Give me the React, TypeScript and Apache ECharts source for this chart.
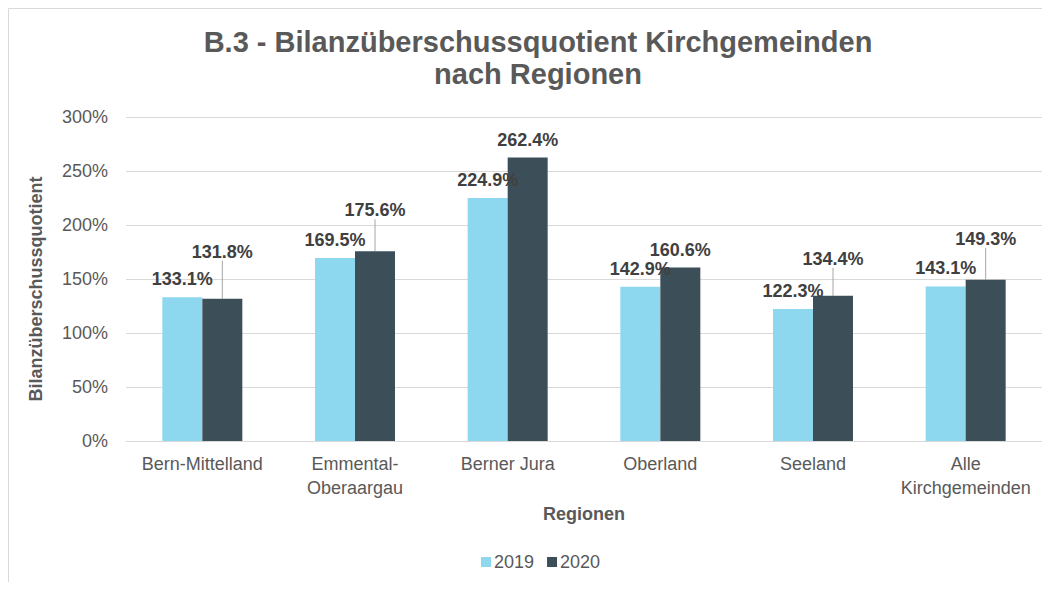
import React, { useEffect, useRef } from "react";
import * as echarts from "echarts";

const categories = [
  "Bern-Mittelland",
  "Emmental-\nOberaargau",
  "Berner Jura",
  "Oberland",
  "Seeland",
  "Alle\nKirchgemeinden",
];
const seriesNames = ["2019", "2020"];
const values2019 = [133.1, 169.5, 224.9, 142.9, 122.3, 143.1];
const values2020 = [131.8, 175.6, 262.4, 160.6, 134.4, 149.3];
const yMin = 0;
const yMax = 300;
const yInterval = 50;

const titleLines = ["B.3 - Bilanzüberschussquotient Kirchgemeinden", "nach Regionen"];
const yAxisName = "Bilanzüberschussquotient";
const xAxisName = "Regionen";

// label placement (layout only): how far the 2020 labels were lifted
const lift2020 = [29, 23, 0, 0, 19, 23];

const FONT = "'Liberation Sans', Arial, sans-serif";

export default function App() {
  const ref = useRef<HTMLDivElement>(null);
  useEffect(() => {
    if (!ref.current) return;
    const chart = echarts.init(ref.current, null, { renderer: "svg" });
    const fmt = (p: any) => Number(p.value).toFixed(1) + "%";
    chart.setOption({
      animation: false,
      textStyle: { fontFamily: FONT },
      graphic: [
        {
          type: "rect",
          silent: true,
          shape: { x: 0.5, y: 0.5, width: 1100, height: 700 },
          style: { fill: "none", stroke: "#d9d9d9", lineWidth: 1 },
        },
        {
          type: "text",
          x: 530,
          y: 34,
          style: {
            text: titleLines[0],
            fontFamily: FONT,
            fontSize: 29,
            fontWeight: "bold",
            fill: "#595959",
            align: "center",
            verticalAlign: "middle",
          },
        },
        {
          type: "text",
          x: 530,
          y: 66,
          style: {
            text: titleLines[1],
            fontFamily: FONT,
            fontSize: 29,
            fontWeight: "bold",
            fill: "#595959",
            align: "center",
            verticalAlign: "middle",
          },
        },
        {
          type: "text",
          x: 28,
          y: 281,
          rotation: Math.PI / 2,
          style: {
            text: yAxisName,
            fontFamily: FONT,
            fontSize: 18,
            fontWeight: "bold",
            fill: "#595959",
            align: "center",
            verticalAlign: "middle",
          },
        },
      ],
      legend: {
        data: seriesNames,
        left: 473,
        top: 545,
        padding: 0,
        itemWidth: 10,
        itemHeight: 10,
        itemGap: 13,
        icon: "rect",
        textStyle: { fontFamily: FONT, fontSize: 18, color: "#595959", padding: [0, 0, 0, -2] },
      },
      grid: { left: 118, right: 0, top: 109, height: 324 },
      xAxis: {
        type: "category",
        data: categories,
        name: xAxisName,
        nameLocation: "middle",
        nameGap: 63,
        nameTextStyle: { fontFamily: FONT, fontSize: 18, fontWeight: "bold", color: "#595959" },
        axisLine: { lineStyle: { color: "#d9d9d9", width: 1 } },
        axisTick: { show: false },
        axisLabel: {
          fontFamily: FONT,
          fontSize: 18,
          color: "#595959",
          lineHeight: 24,
          margin: 11,
          interval: 0,
        },
      },
      yAxis: {
        type: "value",
        min: yMin,
        max: yMax,
        interval: yInterval,
        axisLine: { show: false },
        axisTick: { show: false },
        splitLine: { lineStyle: { color: "#d9d9d9", width: 1 } },
        axisLabel: {
          fontFamily: FONT,
          fontSize: 18,
          color: "#595959",
          margin: 18,
          formatter: "{value}%",
        },
      },
      series: [
        {
          name: seriesNames[0],
          type: "bar",
          data: values2019,
          barWidth: 40,
          barGap: "0%",
          itemStyle: { color: "#8ED8EF" },
          label: {
            show: true,
            position: "top",
            distance: 9,
            formatter: fmt,
            fontFamily: FONT,
            fontSize: 18,
            fontWeight: "bold",
            color: "#404040",
          },
        },
        {
          name: seriesNames[1],
          type: "bar",
          data: values2020.map((v, i) => ({
            value: v,
            labelLine: { show: lift2020[i] > 0 },
          })),
          barWidth: 40,
          barGap: "0%",
          itemStyle: { color: "#3C4F59" },
          label: {
            show: true,
            position: "top",
            distance: 9,
            formatter: fmt,
            fontFamily: FONT,
            fontSize: 18,
            fontWeight: "bold",
            color: "#404040",
          },
          labelLine: { show: true, lineStyle: { color: "#a6a6a6", width: 1 } },
          labelLayout: (p: any) => ({ dy: -lift2020[p.dataIndex] }),
        },
      ],
    });
    return () => chart.dispose();
  }, []);
  return <div ref={ref} style={{ width: 1034, height: 574 }} />;
}
